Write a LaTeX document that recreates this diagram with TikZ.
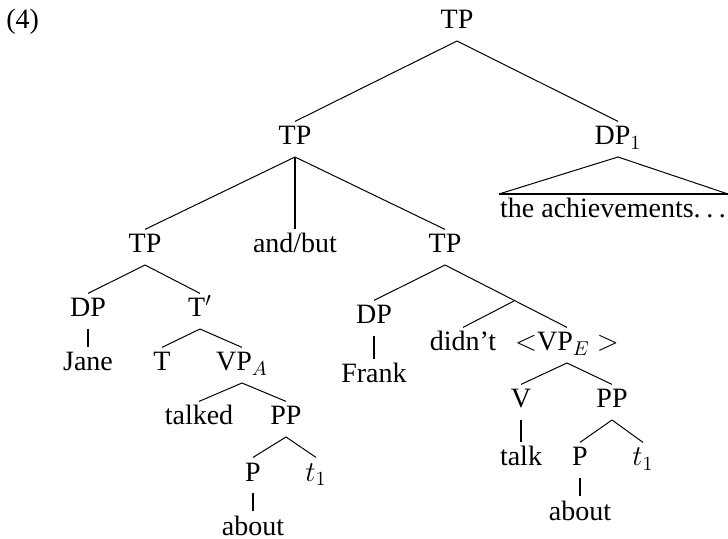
\documentclass[tikz,border=0pt]{standalone}
\usepackage{fontspec}
\setmainfont{Liberation Serif}
\newcommand{\dotsep}{.\kern0.2em.\kern0.2em.}
\begin{document}
\begin{tikzpicture}[x=0.5pt,y=-0.5pt,
  lab/.style={anchor=base, inner xsep=0pt, inner ysep=2.3pt, text height=9.3pt, text depth=3.5pt, font=\fontsize{14}{16}\selectfont},
  br/.style={line width=0.5pt},
  stem/.style={line width=1.1pt}]
\useasboundingbox (0,0) rectangle (728,539);
% nodes
\node[lab, anchor=base west] (ex) at (6,29) {(4)};
\node[lab] (root) at (457,29) {TP};
\node[lab] (tp2) at (295,145) {TP};
\node[lab] (dp1) at (618,145) {DP$_1$};
\node[lab] (ach) at (613,218) {the achievements\dotsep};
\node[lab] (tpl) at (145,253) {TP};
\node[lab] (andbut) at (295,253) {and/but};
\node[lab] (tpr) at (445,253) {TP};
\node[lab] (dpl) at (88,317) {DP};
\node[lab] (tbar) at (200,317) {T$'$};
\node[lab] (jane) at (88,371) {Jane};
\node[lab] (tt) at (162,371) {T};
\node[lab] (vpa) at (242,371) {VP$_A$};
\node[lab] (talked) at (199,425) {talked};
\node[lab] (ppl) at (286,425) {PP};
\node[lab] (pl) at (253,481) {P};
\node[lab] (tl) at (316,481) {$t_1$};
\node[lab] (aboutl) at (253,535) {about};
\node[lab] (dpr) at (374,324) {DP};
\node[lab] (frank) at (374,383) {Frank};
\node[lab] (didnt) at (463,351) {didn't};
\node[lab] (vpe) at (567,351) {$<$VP$_E$ $>$};
\node[lab] (vv) at (521,408) {V};
\node[lab] (ppr) at (612,408) {PP};
\node[lab] (talk) at (521,466) {talk};
\node[lab] (pr) at (580,466) {P};
\node[lab] (tr) at (643,466) {$t_1$};
\node[lab] (aboutr) at (580,520) {about};
% helper points
\coordinate (triL) at (499,194);
\coordinate (triR) at (728,194);
\coordinate (jn) at (514,301);
% connectors
\draw[br] (root.south) -- (tp2.north);
\draw[br] (root.south) -- (dp1.north);
\draw[br] (triL) -- (dp1.south) -- (triR);
\draw[stem] (triL) -- (triR);
\draw[br] (tp2.south) -- (tpl.north);
\draw[stem] (tp2.south) -- (andbut.north);
\draw[br] (tp2.south) -- (tpr.north);
\draw[br] (tpl.south) -- (dpl.north);
\draw[br] (tpl.south) -- (tbar.north);
\draw[stem] (dpl.south) -- (jane.north);
\draw[br] (tbar.south) -- (tt.north);
\draw[br] (tbar.south) -- (vpa.north);
\draw[br] (vpa.south) -- (talked.north);
\draw[br] (vpa.south) -- (ppl.north);
\draw[br] (ppl.south) -- (pl.north);
\draw[br] (ppl.south) -- (tl.north);
\draw[stem] (pl.south) -- (aboutl.north);
\draw[br] (tpr.south) -- (dpr.north);
\draw[br] (tpr.south) -- (vpe.north);
\draw[br] (jn) -- (didnt.north);
\draw[stem] (dpr.south) -- (frank.north);
\draw[br] (vpe.south) -- (vv.north);
\draw[br] (vpe.south) -- (ppr.north);
\draw[stem] (vv.south) -- (talk.north);
\draw[br] (ppr.south) -- (pr.north);
\draw[br] (ppr.south) -- (tr.north);
\draw[stem] (pr.south) -- (aboutr.north);
\end{tikzpicture}
\end{document}
